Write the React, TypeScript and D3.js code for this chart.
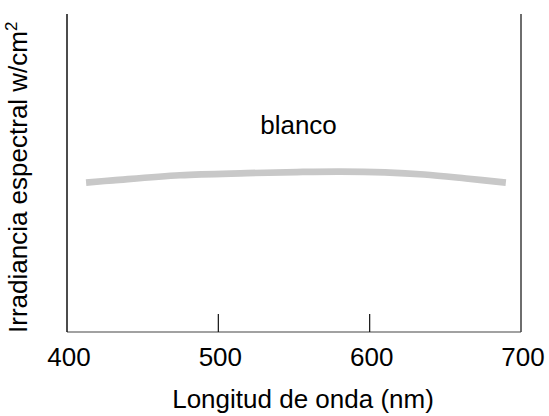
import React from "react";
import * as d3 from "d3";

const wavelengths = [412.6, 430.4, 474.7, 518.9, 552, 580.4, 610, 636, 663.7, 690];
const irradiance = [0.47, 0.477, 0.493, 0.4995, 0.503, 0.5045, 0.502, 0.4953, 0.4827, 0.4695];
const xTicks = [400, 500, 600, 700];
const seriesLabel = "blanco";
const xTitle = "Longitud de onda (nm)";
const yTitle = "Irradiancia espectral w/cm";

const W = 549;
const H = 416;
const FONT = "'Liberation Sans', Arial, Helvetica, sans-serif";

export default function App() {
  const x = d3.scaleLinear().domain([400, 700]).range([67, 521]);
  const y = d3.scaleLinear().domain([0, 1]).range([332, 14]);
  const pts = wavelengths.map((w, i) => [w, irradiance[i]] as [number, number]);
  const line = d3
    .line<[number, number]>()
    .x((d) => x(d[0]))
    .y((d) => y(d[1]))
    .curve(d3.curveCatmullRom.alpha(0.5));

  return (
    <svg
      width={W}
      height={H}
      style={{ position: "absolute", left: 0, top: 0, background: "#fff" }}
      fontFamily={FONT}
    >
      <rect x={0} y={0} width={W} height={H} fill="#fff" />
      <line x1={x(700)} x2={x(700)} y1={y(1)} y2={y(0)} stroke="#6e6e6e" strokeWidth={2} />
      <line x1={x(400)} x2={x(700)} y1={y(0)} y2={y(0)} stroke="#444" strokeWidth={1.2} />
      <line x1={x(400)} x2={x(400)} y1={y(1)} y2={y(0)} stroke="#111" strokeWidth={1.5} />
      {xTicks.slice(1, -1).map((t) => (
        <line key={t} x1={x(t)} x2={x(t)} y1={y(0)} y2={y(0) - 18} stroke="#111" strokeWidth={1.2} />
      ))}
      {xTicks.map((t) => (
        <text key={t} x={x(t) + 2} y={366} textAnchor="middle" fontSize={26} fill="#000">
          {t}
        </text>
      ))}
      <path d={line(pts) || ""} fill="none" stroke="#c8c8c8" strokeWidth={6.7} />
      <text x={298.5} y={134} textAnchor="middle" fontSize={26} fill="#000">
        {seriesLabel}
      </text>
      <text x={303} y={408} textAnchor="middle" fontSize={26} fill="#000">
        {xTitle}
      </text>
      <text transform="translate(27,333) rotate(-90)" textAnchor="start" fontSize={26} fill="#000">
        {yTitle}
        <tspan fontSize={17} dy={-10}>2</tspan>
      </text>
    </svg>
  );
}
